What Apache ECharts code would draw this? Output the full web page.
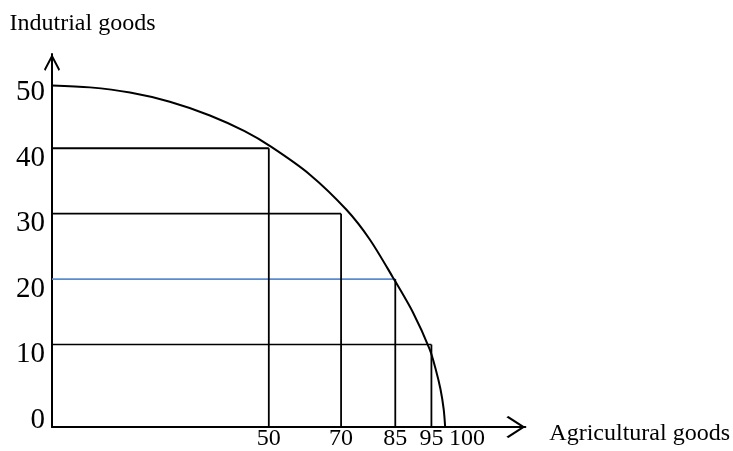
<!DOCTYPE html>
<html>
<head>
<meta charset="utf-8">
<script src="https://cdn.jsdelivr.net/npm/echarts@6/dist/echarts.min.js"></script>
<style>
  html, body { margin: 0; padding: 0; background: #fff; }
  #chart { width: 733px; height: 451px; }
</style>
</head>
<body>
<div id="chart"></div>
<script>
// Production possibility frontier: industrial vs agricultural goods

// Combinations marked on the frontier (agricultural, industrial)
const agriculturalLevels = [50, 70, 85, 95];
const industrialLevels = [40, 30, 20, 10];

// Tick labels
const xTickLabels = [50, 70, 85, 95, 100];
const yTickLabels = [0, 10, 20, 30, 40, 50];

// Frontier curve, traced as (agricultural, industrial) pairs
const frontierX = [-10, 0.5, 11.6, 22.6, 33.7, 43.3, 50.7, 61.3, 71.5, 77.9, 84.3, 89.9, 94.5, 96.2, 97.5, 98.4, 98.8];
const frontierY = [49.6, 49.3, 48.5, 47.1, 45.0, 42.6, 40.2, 36.0, 30.6, 26.1, 20.3, 14.9, 9.3, 6.2, 3.2, 0.1, -2.6];

// Axis extents (axes cross at the lower-left corner)
const X_MIN = -10, X_MAX = 121;
const Y_MIN = -2.6, Y_MAX = 54.4;

const FONT = '"Liberation Serif", "Times New Roman", serif';
const INK = '#000';
const HIGHLIGHT = { 20: '#5b8bcb' };   // level drawn in blue

// open chevron arrow heads, pointing up before rotation
const ARROW_X = 'path://M11,0 L22,17 L20.8,19 L11,3.8 L1.2,19 L0,17 Z';
const ARROW_Y = 'path://M8,0 L16,15.2 L14.7,17 L8,4.2 L1.3,17 L0,15.2 Z';

const series = [];

// horizontal guides from the vertical axis to each marked combination
agriculturalLevels.forEach((ax, i) => {
  const iy = industrialLevels[i];
  series.push({
    type: 'line', symbol: 'none', silent: true, z: 2,
    data: [[X_MIN, iy], [ax, iy]],
    lineStyle: { color: HIGHLIGHT[iy] || INK, width: iy === 40 ? 2 : 1.6 }
  });
});

// vertical guides down to the horizontal axis
agriculturalLevels.forEach((ax, i) => {
  const iy = industrialLevels[i];
  series.push({
    type: 'line', symbol: 'none', silent: true, z: 2,
    data: [[ax, iy], [ax, Y_MIN]],
    lineStyle: { color: INK, width: 1.8 }
  });
});

// the frontier itself
series.push({
  type: 'line', symbol: 'none', silent: true, z: 3,
  smooth: 0.3,
  data: frontierX.map((x, i) => [x, frontierY[i]]),
  lineStyle: { color: INK, width: 2 }
});

const chart = echarts.init(document.getElementById('chart'), null, { renderer: 'canvas' });
chart.setOption({
  animation: false,
  backgroundColor: '#fff',
  grid: { left: 52, right: 207, top: 54, bottom: 23, containLabel: false },
  xAxis: {
    type: 'value', min: X_MIN, max: X_MAX,
    name: 'Agricultural goods', nameLocation: 'end', nameGap: 24,
    nameTextStyle: {
      fontFamily: FONT, fontSize: 24, color: INK,
      align: 'left', verticalAlign: 'top', lineHeight: 14
    },
    axisLine: {
      show: true, onZero: false,
      symbol: ['none', ARROW_X], symbolSize: [22, 19], symbolOffset: [0, -9.5],
      lineStyle: { color: INK, width: 2 }
    },
    axisTick: { show: false },
    splitLine: { show: false },
    axisLabel: {
      customValues: xTickLabels,
      margin: 0,
      fontFamily: FONT, fontSize: 24, color: INK,
      formatter: v => (v === 100 ? '{shift|100}' : String(v)),
      rich: { shift: { fontFamily: FONT, fontSize: 24, color: INK, padding: [0, 0, 0, 35] } }
    }
  },
  yAxis: {
    type: 'value', min: Y_MIN, max: Y_MAX,
    name: 'Indutrial goods', nameLocation: 'end', nameGap: 18,
    nameTextStyle: { fontFamily: FONT, fontSize: 24, color: INK, padding: [0, 0, 0, 61] },
    axisLine: {
      show: true, onZero: false,
      symbol: ['none', ARROW_Y], symbolSize: [16, 17], symbolOffset: [0, -8.5],
      lineStyle: { color: INK, width: 2 }
    },
    axisTick: { show: false },
    splitLine: { show: false },
    axisLabel: {
      customValues: yTickLabels,
      margin: 7, verticalAlign: 'top', lineHeight: 20,
      fontFamily: FONT, fontSize: 29, color: INK
    }
  },
  series
});
</script>
</body>
</html>
